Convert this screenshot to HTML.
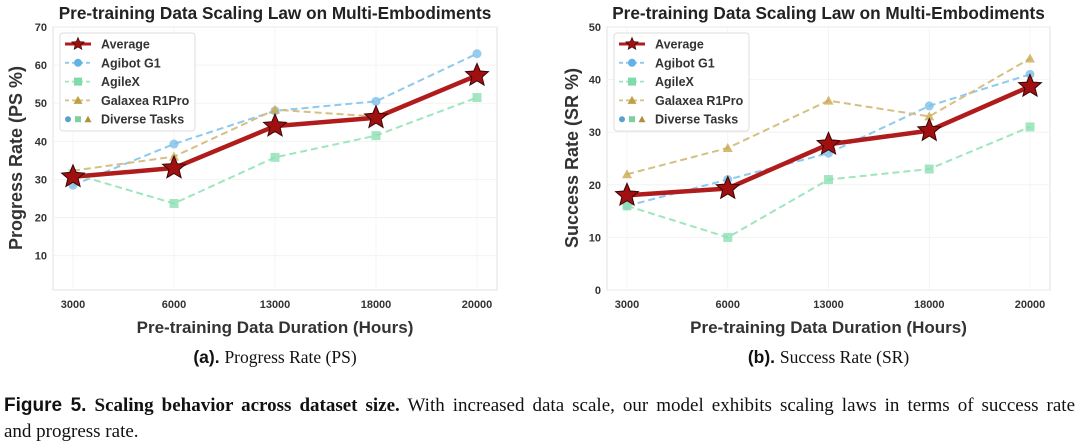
<!DOCTYPE html>
<html><head><meta charset="utf-8">
<style>
body{margin:0;background:#fff;width:1080px;height:448px;overflow:hidden;font-family:"Liberation Sans",sans-serif}
svg{position:absolute;left:0;top:0}
</style></head>
<body>
<svg id="fig" width="1080" height="448"></svg>
<script>
const categories=["3000","6000","13000","18000","20000"];
const psAverage=[30.7,33,44,46.2,57.3];
const psAgibot=[28.5,39.3,48,50.5,63];
const psAgilex=[31.5,23.7,35.8,41.5,51.5];
const psGalaxea=[32.3,36,48.3,46.5,57.5];
const psTicks=[10,20,30,40,50,60,70];
const srAverage=[18,19.3,27.7,30.3,38.7];
const srAgibot=[16,21,26,35,41];
const srAgilex=[16,10,21,23,31];
const srGalaxea=[22,27,36,33,44];
const srTicks=[0,10,20,30,40,50];

const NS="http://www.w3.org/2000/svg";
const svg=document.getElementById('fig');
function mk(tag,attrs,parent,text){const e=document.createElementNS(NS,tag);for(const k in attrs)e.setAttribute(k,attrs[k]);if(text!==undefined)e.textContent=text;(parent||svg).appendChild(e);return e;}
function star(cx,cy,R){let p=[];for(let i=0;i<10;i++){const r=i%2?R*0.45:R;const a=-Math.PI/2+i*Math.PI/5;p.push((cx+r*Math.cos(a)).toFixed(1)+","+(cy+r*Math.sin(a)).toFixed(1));}return p.join(" ");}

function chart(o){
  const g=mk('g',{});
  
  
  const L=o.x0,R=o.x1,T=27,B=290;
  const ys=v=>B-(v-o.ymin)/(o.ymax-o.ymin)*(B-T);
  const step=(R-L-40)/(categories.length-1);
  const xs=i=>L+20+i*step;
  const bg=mk('rect',{x:L,y:T,width:R-L,height:B-T,fill:'#fff',stroke:'#e6e6e6','stroke-width':1.2},g);
  
  o.ticks.forEach(t=>{
    mk('line',{x1:L,x2:R,y1:ys(t),y2:ys(t),stroke:'#f0f0f0','stroke-width':0.8},g);
    const tl=mk('text',{x:L-6,y:ys(t)+4,'text-anchor':'end','font-size':11,'font-weight':'bold',fill:'#333'},g,t);
    
  });
  categories.forEach((c,i)=>{
    mk('line',{x1:xs(i),x2:xs(i),y1:T,y2:B,stroke:'#f2f2f2','stroke-width':0.8},g);
    const tl=mk('text',{x:xs(i),y:308,'text-anchor':'middle','font-size':11,'font-weight':'bold',fill:'#333'},g,c);
    
  });
  const series=[
    {d:o.agibot,c:'#8ec9ee',m:'circle',n:'agibot-line'},
    {d:o.agilex,c:'#9ee6bd',m:'square',n:'agilex-line'},
    {d:o.galaxea,c:'#d7bf82',m:'tri',n:'galaxea-line'}];
  series.forEach(s=>{
    const pl=mk('polyline',{points:s.d.map((v,i)=>xs(i)+','+ys(v)).join(' '),fill:'none',stroke:s.c,'stroke-width':2,'stroke-dasharray':'7,4'},g);
    
    s.d.forEach((v,i)=>{
      let m;
      if(s.m=='circle')m=mk('circle',{cx:xs(i),cy:ys(v),r:4.5,fill:'#7dbfe8','fill-opacity':0.8},g);
      else if(s.m=='square')m=mk('rect',{x:xs(i)-4.5,y:ys(v)-4.5,width:9,height:9,fill:'#8fe0b3','fill-opacity':0.8},g);
      else m=mk('polygon',{points:`${xs(i)},${ys(v)-5} ${xs(i)-5},${ys(v)+4} ${xs(i)+5},${ys(v)+4}`,fill:'#c9a950','fill-opacity':0.8},g);
      
    });
  });
  const avg=mk('polyline',{points:o.avg.map((v,i)=>xs(i)+','+ys(v)).join(' '),fill:'none',stroke:'#b01c1c','stroke-width':4.5,'stroke-linejoin':'round'},g);
  
  o.avg.forEach((v,i)=>{
    const s=mk('polygon',{points:star(xs(i),ys(v),12),fill:'#a01010',stroke:'#3a0505','stroke-width':1},g);
    
  });
  const ti=mk('text',{x:(L+R)/2,y:19,'text-anchor':'middle','font-size':17.2,'font-weight':'bold',fill:'#222'},g,'Pre-training Data Scaling Law on Multi-Embodiments');
  
  const xl=mk('text',{x:(L+R)/2,y:333,'text-anchor':'middle','font-size':17,'font-weight':'bold',fill:'#333'},g,'Pre-training Data Duration (Hours)');
  
  const yl=mk('text',{x:0,y:0,transform:`translate(${o.ylx},158) rotate(-90)`,'text-anchor':'middle','font-size':18,'font-weight':'bold',fill:'#333'},g,o.ylabel);
  
  const lx=o.lx,ly=33;
  const lg=mk('g',{},g);
  mk('rect',{x:lx,y:ly,width:135,height:98,rx:3,fill:'#fff',stroke:'#ddd'},lg);
  const rows=['Average','Agibot G1','AgileX','Galaxea R1Pro','Diverse Tasks'];
  rows.forEach((r,k)=>{
    const y=ly+11+k*18.8;
    const a=lx+5,b=lx+31,m=(a+b)/2;
    if(k==0){mk('line',{x1:a,x2:b,y1:y,y2:y,stroke:'#b01c1c','stroke-width':3},lg);mk('polygon',{points:star(m,y,6.5),fill:'#a01010',stroke:'#3a0505','stroke-width':0.7},lg);}
    else if(k<4){const c=series[k-1];mk('line',{x1:a,x2:b,y1:y,y2:y,stroke:c.c,'stroke-width':1.8,'stroke-dasharray':'4,3'},lg);
      if(c.m=='circle')mk('circle',{cx:m,cy:y,r:4,fill:'#5fb3e6'},lg);
      else if(c.m=='square')mk('rect',{x:m-4,y:y-4,width:8,height:8,fill:'#7fdcaa'},lg);
      else mk('polygon',{points:`${m},${y-4.5} ${m-4.5},${y+3.5} ${m+4.5},${y+3.5}`,fill:'#c2a040'},lg);}
    else{mk('circle',{cx:a+3,cy:y,r:3,fill:'#5a9fd0'},lg);mk('rect',{x:m-3,y:y-3,width:6,height:6,fill:'#7fcfa0'},lg);mk('polygon',{points:`${b-3},${y-3.5} ${b-6.5},${y+3} ${b+0.5},${y+3}`,fill:'#b09040'},lg);}
    const t=mk('text',{x:lx+41,y:y+4.5,'font-size':12.5,'font-weight':'bold',fill:'#333'},lg,r);
    
  });
  const sc=mk('text',{x:(L+R)/2,y:363,'text-anchor':'middle','font-size':17.5,fill:'#111'},g);
  
  mk('tspan',{'font-weight':'bold','font-family':'Liberation Sans'},sc,o.tag+' ');
  mk('tspan',{'font-family':'Liberation Serif'},sc,o.sub);
}
chart({name:'ps-chart',x0:53,x1:497,ymin:1,ymax:70,ticks:psTicks,avg:psAverage,agibot:psAgibot,agilex:psAgilex,galaxea:psGalaxea,ylabel:'Progress Rate (PS %)',ylx:22,lx:60,tag:'(a).',sub:'Progress Rate (PS)'});
chart({name:'sr-chart',x0:607,x1:1050,ymin:0,ymax:50,ticks:srTicks,avg:srAverage,agibot:srAgibot,agilex:srAgilex,galaxea:srGalaxea,ylabel:'Success Rate (SR %)',ylx:578,lx:614,tag:'(b).',sub:'Success Rate (SR)'});
</script>
<div style="position:absolute;left:4px;top:393px;width:1071px;font-family:'Liberation Serif',serif;font-size:19px;line-height:26px;color:#111">
<div style="text-align:justify;text-align-last:justify;white-space:nowrap"><b style="font-family:'Liberation Sans',sans-serif">Figure 5.</b> <b>Scaling behavior across dataset size.</b> With increased data scale, our model exhibits scaling laws in terms of success rate</div>
<div>and progress rate.</div>
</div>
</body></html>
